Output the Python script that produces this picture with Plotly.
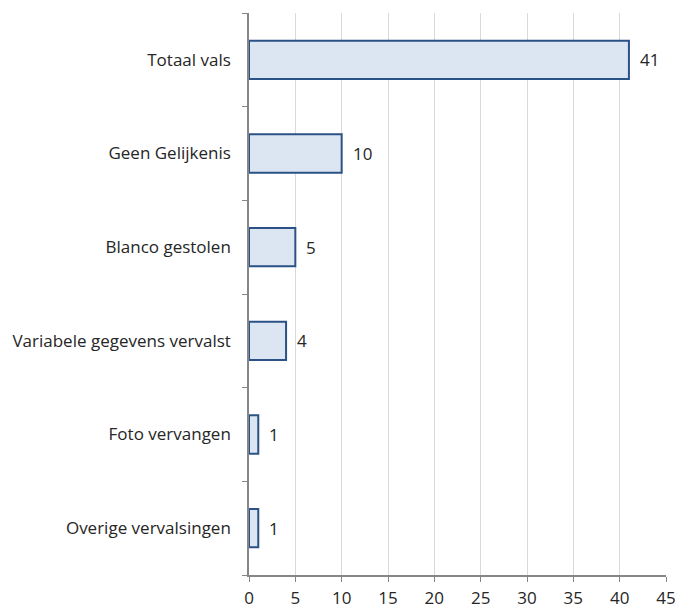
import plotly.graph_objects as go

categories = ["Totaal vals", "Geen Gelijkenis", "Blanco gestolen",
              "Variabele gegevens vervalst", "Foto vervangen", "Overige vervalsingen"]
values = [41, 10, 5, 4, 1, 1]
x_ticks = [0, 5, 10, 15, 20, 25, 30, 35, 40, 45]

FONT = "Open Sans"
FS = 17
TXT = "#262626"

fig = go.Figure(go.Bar(
    y=categories, x=values, orientation="h",
    marker=dict(color="#dce6f2", line=dict(color="#2a5286", width=2)),
    hoverinfo="skip",
))

for c, v in zip(categories, values):
    fig.add_annotation(x=v, y=c, text=str(v), showarrow=False,
                       xanchor="left", xshift=9,
                       font=dict(family=FONT, size=FS, color=TXT))

fig.update_layout(
    width=679, height=608,
    margin=dict(l=249, r=13, t=13, b=33),
    paper_bgcolor="white", plot_bgcolor="white",
    bargap=0.59, showlegend=False,
    font=dict(family=FONT, size=FS, color=TXT),
)
fig.update_xaxes(range=[0, 45], tickvals=x_ticks, showgrid=True,
                 gridcolor="#d9d9d9", gridwidth=1, automargin=False,
                 showline=True, linecolor="#868686", linewidth=1.5,
                 ticks="outside", ticklen=5, tickcolor="#868686",
                 ticklabelstandoff=2,
                 zeroline=False, tickfont=dict(size=FS))
fig.update_yaxes(categoryorder="array", categoryarray=categories[::-1],
                 autorange=True, showline=True, linecolor="#868686", linewidth=1.5,
                 ticks="outside", ticklen=5, tickcolor="#868686", automargin=False,
                 tickson="boundaries", ticklabelstandoff=13,
                 showgrid=False, tickfont=dict(size=FS))

fig.write_html("out.html", config={"displayModeBar": False},
               post_script="document.body.style.margin='0';document.body.style.overflow='hidden';")
